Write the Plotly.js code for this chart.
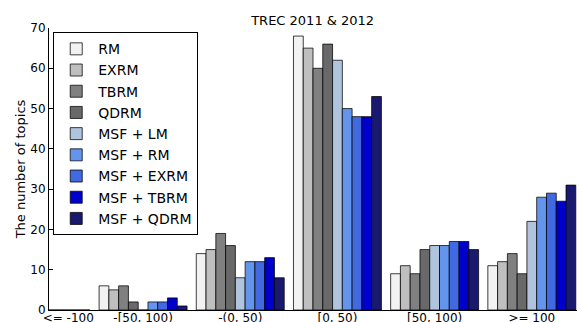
<!DOCTYPE html>
<html><head><meta charset="utf-8">
<script src="https://cdn.plot.ly/plotly-3.0.1.min.js"></script>
<style>html,body{margin:0;padding:0;background:#fff}#chart{width:579px;height:322px}</style>
</head><body><div id="chart"></div>
<script>
const categories = ["<= -100", "-[50, 100)", "-(0, 50)", "[0, 50)", "[50, 100)", ">= 100"];
const seriesNames = ["RM", "EXRM", "TBRM", "QDRM", "MSF + LM", "MSF + RM", "MSF + EXRM", "MSF + TBRM", "MSF + QDRM"];
const RM        = [0, 6, 14, 68, 9, 11];
const EXRM      = [0, 5, 15, 65, 11, 12];
const TBRM      = [0, 6, 19, 60, 9, 14];
const QDRM      = [0, 2, 16, 66, 15, 9];
const MSF_LM    = [0, 0, 8, 62, 16, 22];
const MSF_RM    = [0, 2, 12, 50, 16, 28];
const MSF_EXRM  = [0, 2, 12, 48, 17, 29];
const MSF_TBRM  = [0, 3, 13, 48, 17, 27];
const MSF_QDRM  = [0, 1, 8, 53, 15, 31];
const seriesValues = [RM, EXRM, TBRM, QDRM, MSF_LM, MSF_RM, MSF_EXRM, MSF_TBRM, MSF_QDRM];
const colors = ["#f2f2f2", "#bfbfbf", "#808080", "#696969", "#b0c4de", "#6495ed", "#4169e1", "#0000cd", "#191970"];
const yTicks = [0, 10, 20, 30, 40, 50, 60, 70];

const xPos = categories.map((c, i) => i);
const traces = seriesNames.map((name, k) => ({
  type: "bar",
  name: name,
  x: xPos,
  y: seriesValues[k],
  marker: {color: colors[k], line: {color: "rgba(0,0,0,0.75)", width: 1}},
  hoverinfo: "skip"
}));

const tickPos = xPos.map(i => i === 0 ? 0.23 : i);

const layout = {
  width: 579, height: 322,
  margin: {l: 49, r: 2, t: 28, b: 12},
  paper_bgcolor: "#fff", plot_bgcolor: "#fff",
  font: {family: "DejaVu Sans", color: "#000", size: 12},
  title: {text: "TREC 2011 & 2012", font: {size: 13, family: "DejaVu Sans"}, x: 0.54, xanchor: "center", y: 0.935, yanchor: "middle"},
  barmode: "group",
  bargap: 0.095,
  bargroupgap: 0,
  showlegend: true,
  legend: {
    x: 0.008, y: 0.985, xanchor: "left", yanchor: "top",
    bordercolor: "#000", borderwidth: 1, bgcolor: "#fff",
    font: {size: 14, family: "DejaVu Sans"},
    itemwidth: 34, tracegroupgap: 0, traceorder: "normal"
  },
  xaxis: {
    range: [0.032, 5.465],
    tickvals: tickPos, ticktext: categories,
    ticks: "", showgrid: false, zeroline: false,
    showline: true, linecolor: "#000", linewidth: 1,
    tickfont: {size: 12}, ticklabelstandoff: -3
  },
  yaxis: {
    range: [0, 70],
    tickvals: yTicks,
    ticks: "inside", ticklen: 4, tickcolor: "#000",
    showgrid: false, zeroline: false,
    showline: true, linecolor: "#000", linewidth: 1,
    tickfont: {size: 12},
    title: {text: "The number of topics", font: {size: 13}, standoff: 1}
  }
};
Plotly.newPlot("chart", traces, layout, {staticPlot: true, displayModeBar: false});
</script></body></html>
